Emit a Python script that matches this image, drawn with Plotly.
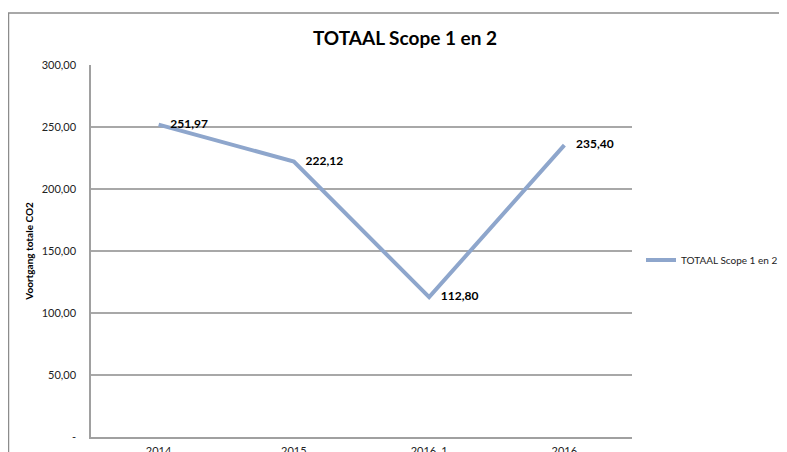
import plotly.graph_objects as go

# chart data
categories = ["2014", "2015", "2016_1", "2016"]
totaal = [251.97, 222.12, 112.80, 235.40]
y_ticks = [0, 50, 100, 150, 200, 250, 300]
y_tick_labels = ["-", "50,00", "100,00", "150,00", "200,00", "250,00", "300,00"]

series_name = "TOTAAL Scope 1 en 2"
line_col = "#8EA6CC"
font_family = "Lato, 'Open Sans', sans-serif"

# the page body adds an 8px margin, so the figure is drawn a bit smaller
W, H = 779, 444


def nl_fmt(v):
    return "\u00a0\u00a0\u00a0\u00a0" + f"{v:.2f}".replace(".", ",")


fig = go.Figure()
fig.add_trace(go.Scatter(
    x=categories, y=totaal, name=series_name,
    mode="lines+text",
    line=dict(color=line_col, width=4),
    text=[nl_fmt(v) for v in totaal],
    textposition="middle right",
    textfont=dict(family=font_family, size=12, color="#000000", weight="bold"),
    cliponaxis=False,
))

# outer chart frame
fig.add_shape(type="rect", xref="paper", yref="paper",
              x0=-0.1525, x1=1.35, y0=-0.3, y1=1.1398,
              line=dict(color="#8C8C8C", width=1.5), layer="below")

fig.update_layout(
    width=W, height=H,
    margin=dict(l=83, r=155, t=57, b=15),
    paper_bgcolor="white", plot_bgcolor="white",
    font=dict(family=font_family, size=11, color="#222222"),
    title=dict(text="<b>TOTAAL Scope 1 en 2</b>", x=397 / W, xanchor="center",
               y=1 - 30 / H, yanchor="middle",
               font=dict(family=font_family, size=19, color="#000000")),
    showlegend=True,
    legend=dict(xref="container", yref="container",
                x=633 / W, y=1 - 252 / H, xanchor="left", yanchor="middle",
                font=dict(family=font_family, size=10, color="#222222"),
                bgcolor="rgba(0,0,0,0)"),
    xaxis=dict(type="category", showgrid=False, zeroline=False,
               showline=True, linecolor="#A0A0A0", linewidth=1.5,
               ticks="", ticklabelstandoff=3, automargin=False,
               tickfont=dict(size=11), range=[-0.5, 3.5]),
    yaxis=dict(range=[0, 300], tickvals=y_ticks, ticktext=y_tick_labels,
               showgrid=True, gridcolor="#A8A8A8", gridwidth=1.5,
               zeroline=False, showline=True, linecolor="#A0A0A0", linewidth=1.5,
               ticks="", ticklabelstandoff=11, automargin=False,
               title=dict(text="<b>Voortgang totale CO2</b>", standoff=6,
                          font=dict(size=10, color="#000000"))),
)

fig.write_html("out.html", config={"displayModeBar": False})
